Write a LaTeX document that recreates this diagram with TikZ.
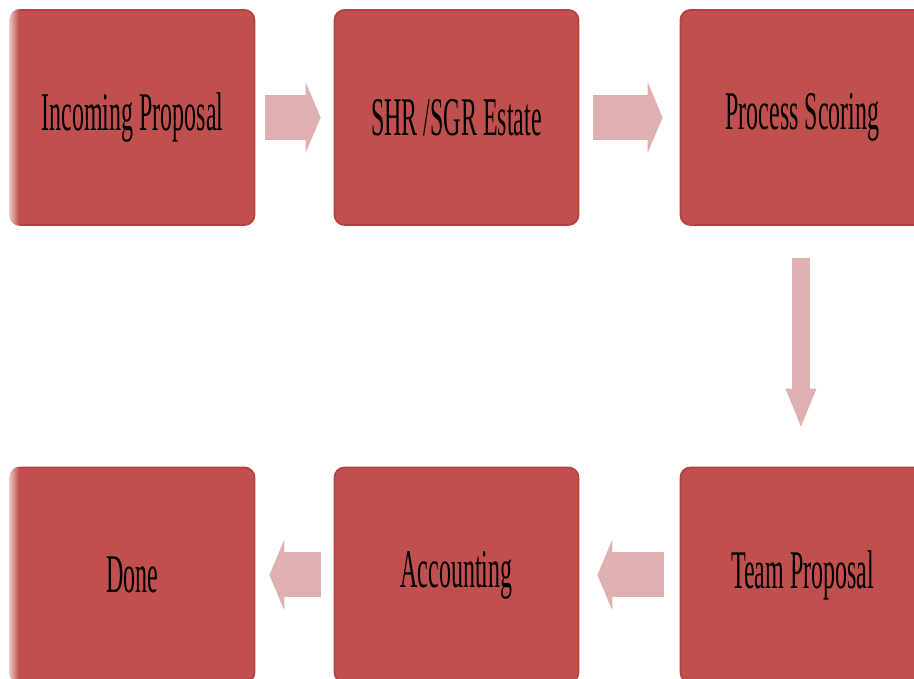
\documentclass[tikz,border=0pt]{standalone}
\usepackage{fontspec}
\newfontfamily\boxfont[FakeStretch=0.44]{Liberation Serif}
\usepackage{tikz}
\usetikzlibrary{arrows.meta,calc}
\definecolor{boxred}{HTML}{C0504D}
\definecolor{boxedge}{HTML}{B4433F}
\definecolor{flowpink}{HTML}{DEB0B0}
\tikzset{
  stepbox/.style={rectangle, rounded corners=0.1cm, fill=boxred, draw=boxedge, line width=0.5pt,
    minimum width=2.44cm, minimum height=2.15cm, inner sep=0pt,
    font=\boxfont\fontsize{15.5pt}{18pt}\selectfont},
  hflow/.style={draw=flowpink, line width=0.45cm, -{Triangle[length=0.15cm,width=0.71cm,line width=0pt]}},
  vflow/.style={draw=flowpink, line width=0.18cm, -{Triangle[length=0.38cm,width=0.31cm,line width=0pt]}}
}

\begin{document}
\begin{tikzpicture}
\useasboundingbox (0,0) rectangle (9.14,6.79);
\clip (0,0) rectangle (9.14,6.79);
% top row
\node[stepbox] (incoming) at (1.325,5.615) {Incoming Proposal};
\node[stepbox] (estate) at (4.565,5.615) {SHR /SGR Estate};
\node[stepbox] (scoring) at (8.025,5.615) {Process Scoring};
% bottom row
\node[stepbox] (done) at (1.325,1.04) {Done};
\node[stepbox] (accounting) at (4.565,1.04) {Accounting};
\node[stepbox] (team) at (8.025,1.04) {Team Proposal};
% soft left edges
\foreach \b in {incoming,done}{
  \begin{scope}
    \clip[rounded corners=0.1cm] (\b.south west) rectangle (\b.north east);
    \shade[left color=boxred!35, right color=boxred] (\b.south west) rectangle ([xshift=0.09cm]\b.north west);
  \end{scope}
}
% flow
\draw[hflow] ([xshift=0.1cm]incoming.east) -- ([xshift=-0.13cm]estate.west);
\draw[hflow] ([xshift=0.14cm]estate.east) -- ([xshift=-0.17cm]scoring.west);
\draw[vflow] ([xshift=-0.015cm,yshift=-0.32cm]scoring.south) -- ([xshift=-0.015cm,yshift=0.4cm]team.north);
\draw[hflow] ([xshift=-0.16cm]team.west) -- ([xshift=0.18cm]accounting.east);
\draw[hflow] ([xshift=-0.13cm]accounting.west) -- ([xshift=0.14cm]done.east);
\end{tikzpicture}
\end{document}
